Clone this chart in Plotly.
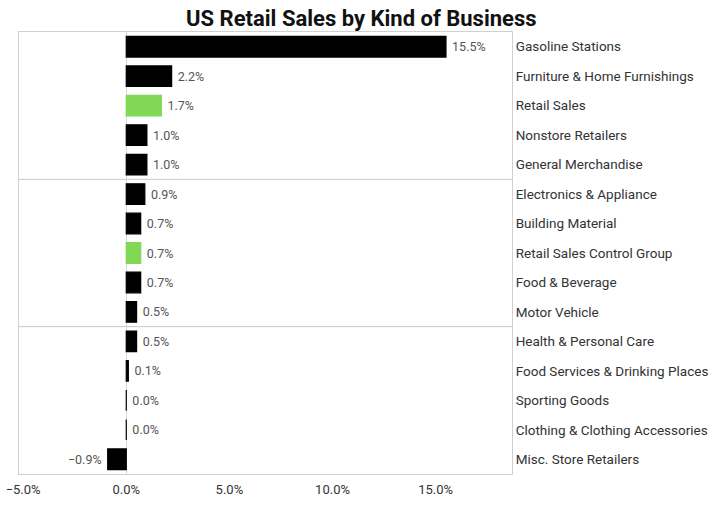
import plotly.graph_objects as go

# categories top to bottom
categories = [
    "Gasoline Stations",
    "Furniture & Home Furnishings",
    "Retail Sales",
    "Nonstore Retailers",
    "General Merchandise",
    "Electronics & Appliance",
    "Building Material",
    "Retail Sales Control Group",
    "Food & Beverage",
    "Motor Vehicle",
    "Health & Personal Care",
    "Food Services & Drinking Places",
    "Sporting Goods",
    "Clothing & Clothing Accessories",
    "Misc. Store Retailers",
]
change_pct = [15.5, 2.2, 1.7, 1.0, 1.0, 0.9, 0.7, 0.7, 0.7, 0.5, 0.5, 0.1, 0.0, 0.0, -0.9]
highlight = ["Retail Sales", "Retail Sales Control Group"]

tick_vals = [-5, 0, 5, 10, 15]
tick_text = ["\u22125.0%", "0.0%", "5.0%", "10.0%", "15.0%"]

colors = ["#80d855" if c in highlight else "#000000" for c in categories]
labels = [(f"\u2212{abs(v):.1f}% " if v < 0 else f" {v:.1f}%") for v in change_pct]

font_family = "Roboto, sans-serif"

fig = go.Figure()
fig.add_trace(go.Bar(
    x=change_pct,
    y=categories,
    orientation="h",
    marker=dict(color=colors, line=dict(color=colors, width=1.2)),
    text=labels,
    textposition="outside",
    textfont=dict(color="#555555", size=12.5, family=font_family),
    cliponaxis=False,
    hoverinfo="skip",
))

# light separators between the groups of five
for pos in [4.5, 9.5]:
    fig.add_shape(type="line", xref="paper", x0=0, x1=1, yref="y", y0=pos, y1=pos,
                  line=dict(color="#c8c8c8", width=1))

fig.update_layout(
    width=727,
    height=506,
    margin=dict(l=19, r=215, t=32, b=32),
    paper_bgcolor="white",
    plot_bgcolor="white",
    bargap=0.3,
    showlegend=False,
    title=dict(text="<b>US Retail Sales by Kind of Business</b>", x=0.497, xanchor="center",
               y=0.98, yanchor="top",
               font=dict(size=22, color="#111111", family=font_family)),
    font=dict(family=font_family),
    xaxis=dict(
        range=[-5.2, 18.7],
        tickvals=tick_vals,
        ticktext=tick_text,
        showgrid=False,
        zeroline=True,
        zerolinecolor="#d8d8d8",
        zerolinewidth=1,
        showline=True,
        mirror=True,
        linecolor="#d0d0d0",
        ticklabelstandoff=3,
        ticklabeloverflow="allow",
        tickfont=dict(size=13, color="#333333"),
        automargin=False,
        fixedrange=True,
    ),
    yaxis=dict(
        autorange="reversed",
        side="right",
        showgrid=False,
        showline=True,
        mirror=True,
        linecolor="#d0d0d0",
        ticks="",
        ticklabelstandoff=0,
        tickfont=dict(size=13.5, color="#333333"),
        automargin=False,
        fixedrange=True,
    ),
)

# drop the default page margin so the figure sits at the window's corner
fig.write_html("out.html", config={"displayModeBar": False},
               post_script="document.body.style.margin='0px';")
